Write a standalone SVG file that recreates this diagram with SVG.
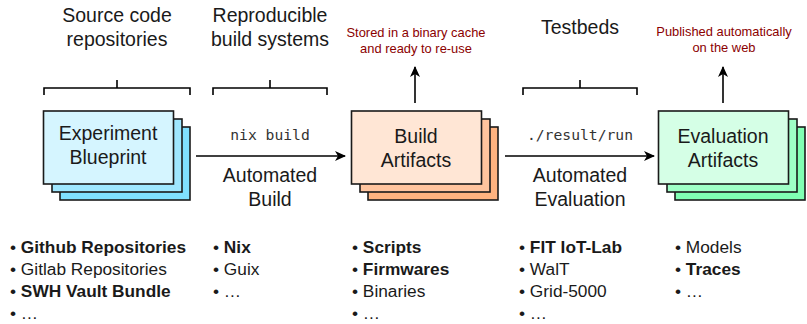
<svg xmlns="http://www.w3.org/2000/svg" width="807" height="324" viewBox="0 0 807 324">
<defs>
<style>
text{font-family:"Liberation Sans",Arial,sans-serif;fill:#1a1a1a}
.t{font-size:19.5px;text-anchor:middle}
.n{font-size:19.5px;text-anchor:middle}
.m{font-family:"DejaVu Sans Mono","Liberation Mono",monospace;font-size:14.7px;text-anchor:middle;fill:#333}
.r{font-size:12.9px;text-anchor:middle;fill:#8b0000}
.l{font-size:17.3px}
.b{font-weight:bold}
.box{stroke:#1a1a1a;stroke-width:1.6}
.ln{stroke:#000;stroke-width:1.6;fill:none}
</style>
<marker id="ah" markerWidth="12" markerHeight="10" refX="10" refY="5" orient="auto" markerUnits="userSpaceOnUse">
<path d="M0,0 L11,5 L0,10 L3,5 Z" fill="#000"/>
</marker>
</defs>
<rect width="807" height="324" fill="#fff"/>

<g id="label-sources">
<text class="t" x="117" y="22">Source code</text>
<text class="t" x="117" y="46">repositories</text>
</g>
<g id="label-build">
<text class="t" x="270" y="22">Reproducible</text>
<text class="t" x="270" y="46">build systems</text>
</g>
<g id="label-testbeds">
<text class="t" x="580" y="34">Testbeds</text>
</g>
<g id="note-cache">
<text class="r" x="416" y="37">Stored in a binary cache</text>
<text class="r" x="416" y="53">and ready to re-use</text>
</g>
<g id="note-web">
<text class="r" x="724" y="36">Published automatically</text>
<text class="r" x="724" y="52">on the web</text>
</g>

<g id="brackets" class="ln">
<path d="M44,95 V88 H190 V95 M117,80 V88"/>
<path d="M213,95 V88 H327 V95 M270,80 V88"/>
<path d="M523,95 V88 H637 V95 M580,80 V88"/>
</g>

<g id="node-blueprint">
<rect class="box" x="60" y="127" width="130" height="73" fill="#80e0ff"/>
<rect class="box" x="52" y="119" width="130" height="73" fill="#9fe7ff"/>
<rect class="box" x="43.5" y="111" width="130" height="73" fill="#d5f5ff"/>
<text class="n" x="108" y="140">Experiment</text>
<text class="n" x="108" y="164">Blueprint</text>
</g>
<g id="node-build">
<rect class="box" x="368" y="127" width="130" height="73" fill="#ffb380"/>
<rect class="box" x="360" y="119" width="130" height="73" fill="#ffc49e"/>
<rect class="box" x="351.5" y="111" width="130" height="73" fill="#ffe6d5"/>
<text class="n" x="416" y="143">Build</text>
<text class="n" x="416" y="167">Artifacts</text>
</g>
<g id="node-eval">
<rect class="box" x="675" y="127" width="130" height="73" fill="#80ffb3"/>
<rect class="box" x="667" y="119" width="130" height="73" fill="#9fffc6"/>
<rect class="box" x="658.5" y="111" width="130" height="73" fill="#d5ffe6"/>
<text class="n" x="723" y="143">Evaluation</text>
<text class="n" x="723" y="167">Artifacts</text>
</g>

<g id="connectors" class="ln">
<line x1="196" y1="156" x2="345" y2="156" marker-end="url(#ah)"/>
<line x1="505" y1="156" x2="654" y2="156" marker-end="url(#ah)"/>
<line x1="415" y1="103" x2="415" y2="67" marker-end="url(#ah)"/>
<line x1="723" y1="103" x2="723" y2="67" marker-end="url(#ah)"/>
</g>

<g id="edge-labels">
<text class="m" x="270" y="140">nix build</text>
<text class="t" x="270" y="182">Automated</text>
<text class="t" x="270" y="206">Build</text>
<text class="m" x="580" y="140">./result/run</text>
<text class="t" x="580" y="182">Automated</text>
<text class="t" x="580" y="206">Evaluation</text>
</g>

<g id="list-sources" class="l">
<text class="l" x="10" y="253">• <tspan class="b">Github Repositories</tspan></text>
<text class="l" x="10" y="275">• Gitlab Repositories</text>
<text class="l" x="10" y="297">• <tspan class="b">SWH Vault Bundle</tspan></text>
<text class="l" x="10" y="319">• …</text>
</g>
<g id="list-build">
<text class="l" x="213" y="253">• <tspan class="b">Nix</tspan></text>
<text class="l" x="213" y="275">• Guix</text>
<text class="l" x="213" y="297">• …</text>
</g>
<g id="list-artifacts">
<text class="l" x="352" y="253">• <tspan class="b">Scripts</tspan></text>
<text class="l" x="352" y="275">• <tspan class="b">Firmwares</tspan></text>
<text class="l" x="352" y="297">• Binaries</text>
<text class="l" x="352" y="319">• …</text>
</g>
<g id="list-testbeds">
<text class="l" x="519" y="253">• <tspan class="b">FIT IoT-Lab</tspan></text>
<text class="l" x="519" y="275">• WalT</text>
<text class="l" x="519" y="297">• Grid-5000</text>
<text class="l" x="519" y="319">• …</text>
</g>
<g id="list-eval">
<text class="l" x="675" y="253">• Models</text>
<text class="l" x="675" y="275">• <tspan class="b">Traces</tspan></text>
<text class="l" x="675" y="297">• …</text>
</g>
</svg>
